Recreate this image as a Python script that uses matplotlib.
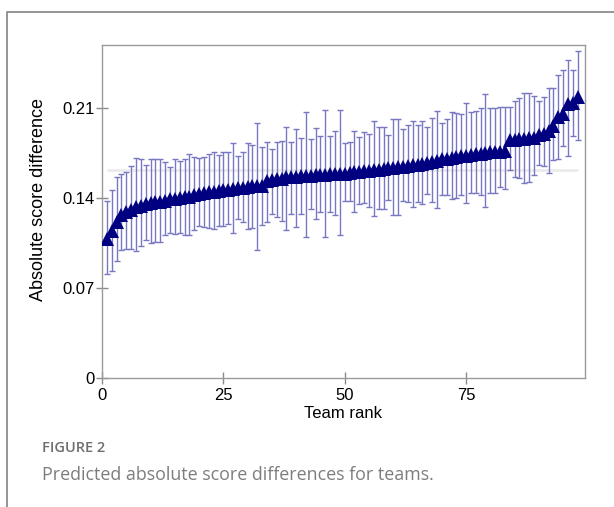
import matplotlib
matplotlib.use("Agg")
import matplotlib.pyplot as plt
from matplotlib.lines import Line2D
import numpy as np

#----- Data: predicted absolute score difference per team, with interval bounds -----
team_rank = list(range(1, 99))

score_diff = [
    0.108, 0.114, 0.121, 0.127, 0.129, 0.131, 0.133, 0.134, 0.135, 0.136,
    0.137, 0.137, 0.138, 0.139, 0.139, 0.140, 0.141, 0.141, 0.142, 0.1435,
    0.144, 0.1445, 0.145, 0.1455, 0.146, 0.1465, 0.147, 0.1475, 0.148, 0.1485,
    0.149, 0.149, 0.1495, 0.153, 0.154, 0.155, 0.155, 0.156, 0.156, 0.1565,
    0.157, 0.157, 0.1575, 0.158, 0.158, 0.158, 0.1585, 0.1585, 0.159, 0.159,
    0.1595, 0.160, 0.1605, 0.161, 0.161, 0.1615, 0.162, 0.1625, 0.163, 0.1635,
    0.164, 0.1645, 0.165, 0.1655, 0.166, 0.1665, 0.167, 0.168, 0.169, 0.170,
    0.1705, 0.171, 0.172, 0.1725, 0.173, 0.1735, 0.174, 0.1745, 0.175, 0.1755,
    0.176, 0.176, 0.1765, 0.185, 0.1855, 0.186, 0.186, 0.1865, 0.187, 0.189,
    0.190, 0.192, 0.196, 0.203, 0.205, 0.213, 0.214, 0.2185,
]

upper = [
    0.138, 0.146, 0.156, 0.159, 0.160, 0.165, 0.171, 0.170, 0.166, 0.170,
    0.170, 0.170, 0.168, 0.164, 0.170, 0.169, 0.170, 0.174, 0.172, 0.171,
    0.172, 0.174, 0.1755, 0.1735, 0.1755, 0.176, 0.1825, 0.173, 0.176, 0.1825,
    0.181, 0.198, 0.180, 0.1833, 0.178, 0.1833, 0.1846, 0.195, 0.1833, 0.1937,
    0.1864, 0.2072, 0.1856, 0.1942, 0.1885, 0.2082, 0.1885, 0.1924, 0.2084, 0.1825,
    0.1836, 0.1924, 0.1877, 0.1916, 0.1895, 0.1996, 0.1955, 0.1955, 0.189, 0.2011,
    0.2011, 0.1934, 0.1965, 0.2001, 0.1965, 0.2001, 0.1955, 0.2019, 0.2074, 0.1986,
    0.2011, 0.2072, 0.2064, 0.2051, 0.2136, 0.2072, 0.2079, 0.2103, 0.2209, 0.2098,
    0.2098, 0.211, 0.211, 0.2105, 0.2152, 0.2175, 0.2219, 0.2214, 0.2193, 0.2157,
    0.2188, 0.2258, 0.2258, 0.2357, 0.2396, 0.2473, 0.2396, 0.2546,
]

lower = [
    0.081, 0.083, 0.091, 0.0995, 0.100, 0.100, 0.099, 0.103, 0.107, 0.105,
    0.106, 0.106, 0.111, 0.113, 0.112, 0.113, 0.111, 0.111, 0.115, 0.1182,
    0.1172, 0.1164, 0.1159, 0.1182, 0.1182, 0.1198, 0.113, 0.1234, 0.1211, 0.1156,
    0.1164, 0.0996, 0.119, 0.1216, 0.1273, 0.125, 0.1224, 0.1151, 0.1276, 0.1172,
    0.1276, 0.1094, 0.1317, 0.1234, 0.1294, 0.1099, 0.1294, 0.1268, 0.1115, 0.1379,
    0.1374, 0.1291, 0.1351, 0.1359, 0.1333, 0.126, 0.1312, 0.1314, 0.1384, 0.1268,
    0.1268, 0.1379, 0.1366, 0.1333, 0.1366, 0.1353, 0.1429, 0.1366, 0.132, 0.1423,
    0.1423, 0.1389, 0.1402, 0.1423, 0.1359, 0.1436, 0.1436, 0.1423, 0.1333, 0.1441,
    0.1436, 0.1488, 0.1467, 0.1618, 0.1566, 0.1553, 0.1519, 0.1527, 0.1579, 0.1657,
    0.1649, 0.1597, 0.1696, 0.1701, 0.1804, 0.1729, 0.1882, 0.1851,
]

overall_level = 0.162   # faint reference line across the ranks

x_ticks = [0, 25, 50, 75]
y_ticks = [0, 0.07, 0.14, 0.21]
y_ticklabels = ["0", "0.07", "0.14", "0.21"]


#----- Figure setup -----
plt.rcParams["font.family"] = ["Liberation Sans", "DejaVu Sans"]

fig = plt.figure(figsize=(6.14, 5.07), dpi=100)
ax = fig.add_axes([102/614, 1 - 378/507, 483/614, 333/507])

x = np.array(team_rank)
y = np.array(score_diff)
yerr = np.vstack([y - np.array(lower), np.array(upper) - y])

ax.hlines(overall_level, x[0], x[-1], color="#ebebeb", lw=2, zorder=1)

ax.errorbar(x, y, yerr=yerr, fmt="none", ecolor="#7777c2", elinewidth=1,
            capsize=2.5, capthick=1, zorder=2)
ax.plot(x, y, linestyle="none", marker="^", markersize=9.8,
        color="#000080", markeredgewidth=0, zorder=3)

ax.set_xlim(0, 99.5)
ax.set_ylim(0, 0.259)
ax.set_xticks(x_ticks)
ax.set_yticks(y_ticks)
ax.set_yticklabels(y_ticklabels)

for sp in ax.spines.values():
    sp.set_color("#9a9a9a")
    sp.set_linewidth(1)

ax.tick_params(direction="inout", length=8, width=1, color="#8a8a8a",
               labelsize=12, labelcolor="black")
ax.tick_params(axis="x", pad=3)
ax.tick_params(axis="y", pad=1)

ax.set_xlabel("Team rank", fontsize=12, labelpad=2)
ax.set_ylabel("Absolute score difference", fontsize=13)
ax.yaxis.set_label_coords(-0.114, 0.535)

#--- Page frame around the figure panel ---
fig.add_artist(Line2D([7/614, 7/614, 1.0], [0.0, 1 - 12/507, 1 - 12/507],
                      transform=fig.transFigure, color="#8c8c8c", lw=1.3))

#--- Caption ---
fig.text(42/614, 1 - 452/507, "FIGURE 2", family="Open Sans", fontsize=10.5,
         fontweight="semibold", color="#6e6e6e", va="baseline")
fig.text(42/614, 1 - 480/507, "Predicted absolute score differences for teams.",
         family="Open Sans", fontsize=12.9, color="#7d7d7d", va="baseline")

fig.savefig("out.png", dpi=100)
